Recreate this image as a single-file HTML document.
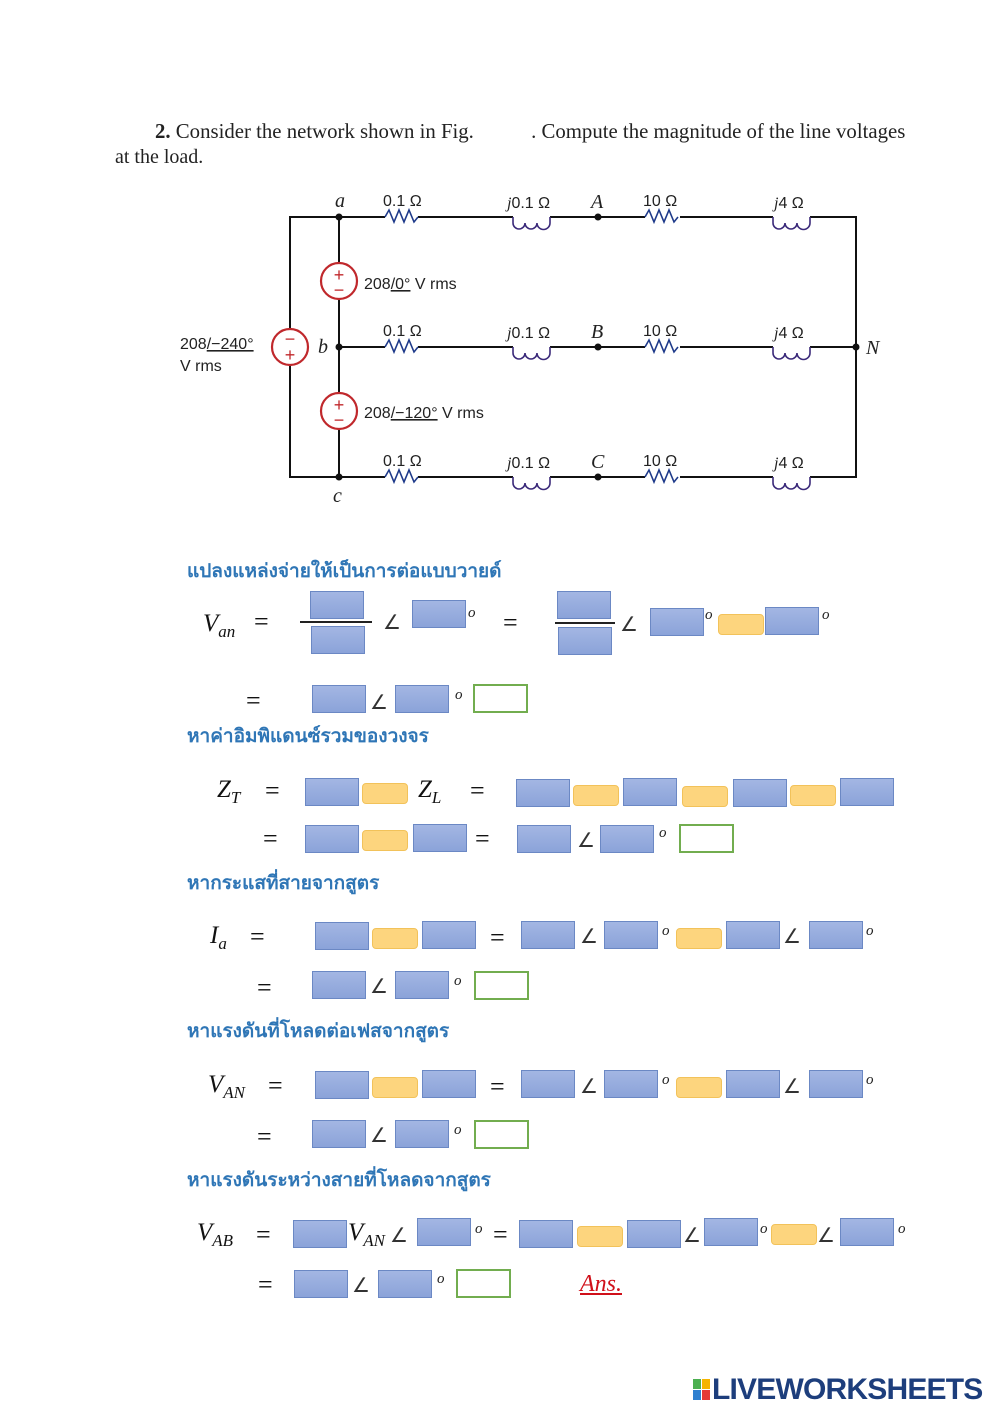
<!DOCTYPE html>
<html><head><meta charset="utf-8"><style>
body{margin:0;background:#fff}
#p{position:relative;width:1000px;height:1414px;overflow:hidden;background:#fff;font-family:"Liberation Serif",serif}
.a{position:absolute}
.b{position:absolute;width:52px;height:26px;background:linear-gradient(#a3b6e3,#8ba3d9);border:1px solid #6b88c4}
.y{position:absolute;width:44px;height:19px;background:#fdd57e;border:1px solid #f2c25a;border-radius:4px}
.g{position:absolute;width:51px;height:25px;border:2px solid #72ad4f;background:#fff}
.t{position:absolute;font-family:"Liberation Serif",serif;font-style:italic;font-size:25px;line-height:1;color:#111}
.e{position:absolute;font-family:"Liberation Serif",serif;font-size:26px;line-height:1;color:#111}
.ang{position:absolute;font-family:"DejaVu Sans",sans-serif;font-size:20px;line-height:1;color:#333}
.o{position:absolute;font-family:"Liberation Serif",serif;font-style:italic;font-size:15px;line-height:1;color:#222}
.h{position:absolute;left:187px;font-family:"Liberation Sans","DejaVu Sans",sans-serif;font-size:19px;font-weight:bold;color:#2f76b6;line-height:1}
sub{font-size:17px;vertical-align:-6px}
</style></head><body><div id="p">

<div class="a" style="left:155px;top:120px;font-size:20.8px;color:#222;white-space:nowrap"><b>2.</b> Consider the network shown in Fig.&nbsp;&nbsp;&nbsp;&nbsp;&nbsp;&nbsp;&nbsp;&nbsp;&nbsp;&nbsp;&nbsp;. Compute the magnitude of the line voltages</div>
<div class="a" style="left:115px;top:146px;font-size:20px;color:#222">at the load.</div>

<svg class="a" style="left:0;top:0" width="1000" height="520" font-family="Liberation Sans,sans-serif">
<g stroke="#111" stroke-width="2" fill="none">
<path d="M339 217H385M418 217H513M550 217H645M680 217H773M810 217H856V477H810M773 477H680M645 477H550M513 477H418M385 477H290V365M290 329V217H339"/>
<path d="M339 347H385M418 347H513M550 347H645M680 347H773M810 347H856"/>
<path d="M339 217V263M339 299V393M339 429V477"/>
</g>
<g stroke="#1e3a8a" stroke-width="1.6" fill="none">
<path d="M385 217l4 -7 5 12 5 -12 5 12 5 -12 5 12 4 -5M645 217l4 -7 5 12 5 -12 5 12 5 -12 5 12 4 -5"/>
<path d="M385 347l4 -7 5 12 5 -12 5 12 5 -12 5 12 4 -5M645 347l4 -7 5 12 5 -12 5 12 5 -12 5 12 4 -5"/>
<path d="M385 477l4 -7 5 12 5 -12 5 12 5 -12 5 12 4 -5M645 477l4 -7 5 12 5 -12 5 12 5 -12 5 12 4 -5"/>
</g>
<g stroke="#3b2a7a" stroke-width="1.6" fill="none">
<path d="M513 217v6a6 6 0 0 0 12 0a6 6 0 0 0 12 0a6 6 0 0 0 13 0v-6M773 217v6a6 6 0 0 0 12 0a6 6 0 0 0 12 0a6 6 0 0 0 13 0v-6"/>
<path d="M513 347v6a6 6 0 0 0 12 0a6 6 0 0 0 12 0a6 6 0 0 0 13 0v-6M773 347v6a6 6 0 0 0 12 0a6 6 0 0 0 12 0a6 6 0 0 0 13 0v-6"/>
<path d="M513 477v6a6 6 0 0 0 12 0a6 6 0 0 0 12 0a6 6 0 0 0 13 0v-6M773 477v6a6 6 0 0 0 12 0a6 6 0 0 0 12 0a6 6 0 0 0 13 0v-6"/>
</g>
<g stroke="#c0282c" stroke-width="2.2" fill="#fff">
<circle cx="339" cy="281" r="18"/><circle cx="339" cy="411" r="18"/><circle cx="290" cy="347" r="18"/>
</g>
<g fill="#c0282c" font-size="18" text-anchor="middle">
<text x="339" y="281">+</text><text x="339" y="296">−</text>
<text x="339" y="411">+</text><text x="339" y="426">−</text>
<text x="290" y="345">−</text><text x="290" y="361">+</text>
</g>
<g fill="#111"><circle cx="339" cy="217" r="3.5"/><circle cx="339" cy="347" r="3.5"/><circle cx="339" cy="477" r="3.5"/>
<circle cx="598" cy="217" r="3.5"/><circle cx="598" cy="347" r="3.5"/><circle cx="598" cy="477" r="3.5"/><circle cx="856" cy="347" r="3.5"/></g>
<g font-size="16" fill="#222">
<text x="383" y="206">0.1 Ω</text><text x="383" y="336">0.1 Ω</text><text x="383" y="466">0.1 Ω</text>
<text x="507" y="208"><tspan font-style="italic" font-family="Liberation Serif">j</tspan>0.1 Ω</text>
<text x="507" y="338"><tspan font-style="italic" font-family="Liberation Serif">j</tspan>0.1 Ω</text>
<text x="507" y="468"><tspan font-style="italic" font-family="Liberation Serif">j</tspan>0.1 Ω</text>
<text x="643" y="206">10 Ω</text><text x="643" y="336">10 Ω</text><text x="643" y="466">10 Ω</text>
<text x="774" y="208"><tspan font-style="italic" font-family="Liberation Serif">j</tspan>4 Ω</text>
<text x="774" y="338"><tspan font-style="italic" font-family="Liberation Serif">j</tspan>4 Ω</text>
<text x="774" y="468"><tspan font-style="italic" font-family="Liberation Serif">j</tspan>4 Ω</text>
<text x="364" y="289">208<tspan text-decoration="underline">/0°</tspan> V rms</text>
<text x="364" y="418">208<tspan text-decoration="underline">/−120°</tspan> V rms</text>
<text x="180" y="349">208<tspan text-decoration="underline">/−240°</tspan></text>
<text x="180" y="371">V rms</text>
</g>
<g font-family="Liberation Serif" font-style="italic" font-size="20" fill="#222">
<text x="335" y="207">a</text><text x="318" y="353">b</text><text x="333" y="502">c</text>
<text x="591" y="208">A</text><text x="591" y="338">B</text><text x="591" y="468">C</text><text x="866" y="354">N</text>
</g>
</svg>

<div class="h" style="top:562px">แปลงแหล่งจ่ายให้เป็นการต่อแบบวายด์</div>
<div class="t" style="left:203px;top:611px">V<sub>an</sub></div><div class="e" style="left:254px;top:609px">=</div>
<div class="b" style="left:310px;top:591px"></div><div class="a" style="left:300px;top:621px;width:72px;height:2px;background:#222"></div><div class="b" style="left:311px;top:626px"></div>
<div class="ang" style="left:383px;top:612px">∠</div><div class="b" style="left:412px;top:600px"></div><div class="o" style="left:468px;top:606px">o</div>
<div class="e" style="left:503px;top:610px">=</div>
<div class="b" style="left:557px;top:591px"></div><div class="a" style="left:555px;top:622px;width:60px;height:2px;background:#222"></div><div class="b" style="left:558px;top:627px"></div>
<div class="ang" style="left:620px;top:614px">∠</div><div class="b" style="left:650px;top:608px"></div><div class="o" style="left:705px;top:608px">o</div>
<div class="y" style="left:718px;top:614px"></div><div class="b" style="left:765px;top:607px"></div><div class="o" style="left:822px;top:608px">o</div>

<div class="e" style="left:246px;top:688px">=</div>
<div class="b" style="left:312px;top:685px"></div><div class="ang" style="left:370px;top:692px">∠</div><div class="b" style="left:395px;top:685px"></div><div class="o" style="left:455px;top:688px">o</div><div class="g" style="left:473px;top:684px"></div>

<div class="h" style="top:727px">หาค่าอิมพิแดนซ์รวมของวงจร</div>
<div class="t" style="left:217px;top:777px">Z<sub>T</sub></div><div class="e" style="left:265px;top:778px">=</div>
<div class="b" style="left:305px;top:778px"></div><div class="y" style="left:362px;top:783px"></div>
<div class="t" style="left:418px;top:777px">Z<sub>L</sub></div><div class="e" style="left:470px;top:778px">=</div>
<div class="b" style="left:516px;top:779px"></div><div class="y" style="left:573px;top:785px"></div><div class="b" style="left:623px;top:778px"></div><div class="y" style="left:682px;top:786px"></div><div class="b" style="left:733px;top:779px"></div><div class="y" style="left:790px;top:785px"></div><div class="b" style="left:840px;top:778px"></div>

<div class="e" style="left:263px;top:826px">=</div>
<div class="b" style="left:305px;top:825px"></div><div class="y" style="left:362px;top:830px"></div><div class="b" style="left:413px;top:824px"></div>
<div class="e" style="left:475px;top:826px">=</div>
<div class="b" style="left:517px;top:825px"></div><div class="ang" style="left:577px;top:830px">∠</div><div class="b" style="left:600px;top:825px"></div><div class="o" style="left:659px;top:826px">o</div><div class="g" style="left:679px;top:824px"></div>

<div class="h" style="top:874px">หากระแสที่สายจากสูตร</div>
<div class="t" style="left:210px;top:923px">I<sub>a</sub></div><div class="e" style="left:250px;top:924px">=</div>
<div class="b" style="left:315px;top:922px"></div><div class="y" style="left:372px;top:928px"></div><div class="b" style="left:422px;top:921px"></div>
<div class="e" style="left:490px;top:925px">=</div>
<div class="b" style="left:521px;top:921px"></div><div class="ang" style="left:580px;top:926px">∠</div><div class="b" style="left:604px;top:921px"></div><div class="o" style="left:662px;top:924px">o</div>
<div class="y" style="left:676px;top:928px"></div><div class="b" style="left:726px;top:921px"></div><div class="ang" style="left:783px;top:926px">∠</div><div class="b" style="left:809px;top:921px"></div><div class="o" style="left:866px;top:924px">o</div>

<div class="e" style="left:257px;top:975px">=</div>
<div class="b" style="left:312px;top:971px"></div><div class="ang" style="left:370px;top:976px">∠</div><div class="b" style="left:395px;top:971px"></div><div class="o" style="left:454px;top:974px">o</div><div class="g" style="left:474px;top:971px"></div>

<div class="h" style="top:1022px">หาแรงดันที่โหลดต่อเฟสจากสูตร</div>
<div class="t" style="left:208px;top:1072px">V<sub>AN</sub></div><div class="e" style="left:268px;top:1073px">=</div>
<div class="b" style="left:315px;top:1071px"></div><div class="y" style="left:372px;top:1077px"></div><div class="b" style="left:422px;top:1070px"></div>
<div class="e" style="left:490px;top:1074px">=</div>
<div class="b" style="left:521px;top:1070px"></div><div class="ang" style="left:580px;top:1076px">∠</div><div class="b" style="left:604px;top:1070px"></div><div class="o" style="left:662px;top:1073px">o</div>
<div class="y" style="left:676px;top:1077px"></div><div class="b" style="left:726px;top:1070px"></div><div class="ang" style="left:783px;top:1076px">∠</div><div class="b" style="left:809px;top:1070px"></div><div class="o" style="left:866px;top:1073px">o</div>

<div class="e" style="left:257px;top:1124px">=</div>
<div class="b" style="left:312px;top:1120px"></div><div class="ang" style="left:370px;top:1125px">∠</div><div class="b" style="left:395px;top:1120px"></div><div class="o" style="left:454px;top:1123px">o</div><div class="g" style="left:474px;top:1120px"></div>

<div class="h" style="top:1171px">หาแรงดันระหว่างสายที่โหลดจากสูตร</div>
<div class="t" style="left:197px;top:1220px">V<sub>AB</sub></div><div class="e" style="left:256px;top:1222px">=</div>
<div class="b" style="left:293px;top:1220px"></div><div class="t" style="left:348px;top:1220px">V<sub>AN</sub></div><div class="ang" style="left:390px;top:1225px">∠</div><div class="b" style="left:417px;top:1218px"></div><div class="o" style="left:475px;top:1222px">o</div>
<div class="e" style="left:493px;top:1222px">=</div>
<div class="b" style="left:519px;top:1220px"></div><div class="y" style="left:577px;top:1226px"></div><div class="b" style="left:627px;top:1220px"></div><div class="ang" style="left:683px;top:1225px">∠</div><div class="b" style="left:704px;top:1218px"></div><div class="o" style="left:760px;top:1222px">o</div>
<div class="y" style="left:771px;top:1224px"></div><div class="ang" style="left:817px;top:1225px">∠</div><div class="b" style="left:840px;top:1218px"></div><div class="o" style="left:898px;top:1222px">o</div>

<div class="e" style="left:258px;top:1272px">=</div>
<div class="b" style="left:294px;top:1270px"></div><div class="ang" style="left:352px;top:1275px">∠</div><div class="b" style="left:378px;top:1270px"></div><div class="o" style="left:437px;top:1272px">o</div><div class="g" style="left:456px;top:1269px"></div>
<div class="a" style="left:580px;top:1271px;font-style:italic;font-size:24px;color:#d0101a;text-decoration:underline">Ans.</div>

<div class="a" style="left:693px;top:1379px;width:8px;height:10px;background:#4caf50"></div>
<div class="a" style="left:702px;top:1379px;width:8px;height:10px;background:#f5b400"></div>
<div class="a" style="left:693px;top:1390px;width:8px;height:10px;background:#2f80d0"></div>
<div class="a" style="left:702px;top:1390px;width:8px;height:10px;background:#e53935"></div>
<div class="a" style="left:712px;top:1373px;font-family:'Liberation Sans',sans-serif;font-weight:bold;font-size:30px;color:#1d3e7c;letter-spacing:-0.8px;line-height:1.1;white-space:nowrap">LIVEWORKSHEETS</div>
</div></body></html>
